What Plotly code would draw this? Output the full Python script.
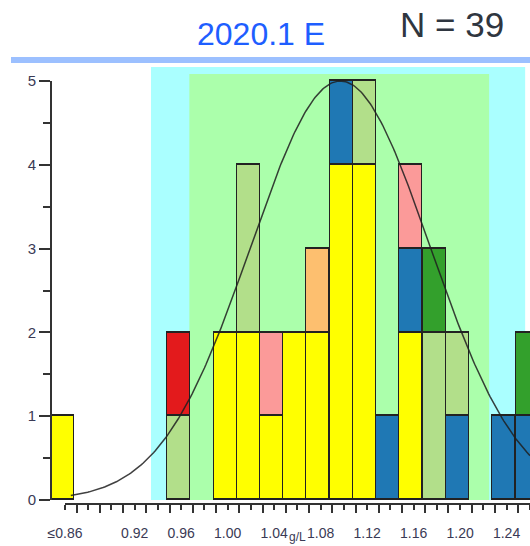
import numpy as np
import plotly.graph_objects as go

# ---------------- data ----------------
bin_centers = [0.86, 0.96, 1.00, 1.02, 1.04, 1.06, 1.08, 1.10, 1.12, 1.14, 1.16, 1.18, 1.20, 1.22, 1.24, 1.26]
yellow     = [1, 0, 2, 2, 1, 2, 2, 4, 4, 0, 2, 0, 0, 0, 0, 0]
blue       = [0, 0, 0, 0, 0, 0, 0, 1, 0, 1, 1, 0, 1, 0, 1, 1]
lightgreen = [0, 1, 0, 2, 0, 0, 0, 0, 1, 0, 0, 2, 1, 0, 0, 0]
pink       = [0, 0, 0, 0, 1, 0, 0, 0, 0, 0, 1, 0, 0, 0, 0, 0]
red        = [0, 1, 0, 0, 0, 0, 0, 0, 0, 0, 0, 0, 0, 0, 0, 0]
orange     = [0, 0, 0, 0, 0, 0, 1, 0, 0, 0, 0, 0, 0, 0, 0, 0]
green      = [0, 0, 0, 0, 0, 0, 0, 0, 0, 0, 0, 1, 0, 0, 0, 1]

x_tick_vals = [0.86, 0.92, 0.96, 1.00, 1.04, 1.08, 1.12, 1.16, 1.20, 1.24]
x_tick_text = ["≤0.86", "0.92", "0.96", "1.00", "1.04", "1.08", "1.12", "1.16", "1.20", "1.24"]
y_tick_vals = [0, 1, 2, 3, 4, 5]

curve_mean = 1.097
curve_sd = 0.077
curve_peak = 5.0
mean_marker = 1.099

outer_limits = [0.934, 1.256]   # cyan band
inner_limits = [0.967, 1.225]   # green band

title_text = "2020.1 E"
n_text = "N = 39"
x_title = "g/L"

# ---------------- layout geometry ----------------
W, H = 530, 546
def py(px):  # pixel y -> paper
    return (H - px) / H

x_range = [0.84795, 1.26017]
y_range = [0, 5.17]

fig = go.Figure()

series = [
    (yellow, "#FFFF00"),
    (blue, "#1F78B4"),
    (lightgreen, "#B2DF8A"),
    (pink, "#FB9A99"),
    (red, "#E31A1C"),
    (orange, "#FDBF6F"),
    (green, "#33A02C"),
]
for vals, col in series:
    fig.add_trace(go.Bar(
        x=bin_centers, y=[v if v else None for v in vals],
        width=0.0198, offset=-0.0122,
        marker=dict(color=col, line=dict(color="#222222", width=1.5)),
        showlegend=False, hoverinfo="skip",
    ))

cx = np.linspace(0.865, x_range[1], 300)
cy = curve_peak * np.exp(-0.5 * ((cx - curve_mean) / curve_sd) ** 2)
fig.add_trace(go.Scatter(x=cx, y=cy, mode="lines",
                         line=dict(color="rgba(30,30,30,0.85)", width=1.5),
                         showlegend=False, hoverinfo="skip"))

fig.add_trace(go.Scatter(x=[mean_marker], y=[-0.13], mode="markers",
                         marker=dict(symbol="triangle-up", size=12, color="#FFFF00",
                                     line=dict(color="#707000", width=1)),
                         cliponaxis=False, showlegend=False, hoverinfo="skip"))

shapes = [
    dict(type="rect", xref="x", yref="y", x0=outer_limits[0], x1=outer_limits[1],
         y0=0, y1=5.167, fillcolor="#AAFFFF", line=dict(width=0), layer="below"),
    dict(type="rect", xref="x", yref="y", x0=inner_limits[0], x1=inner_limits[1],
         y0=0, y1=5.083, fillcolor="#ABFFAB", line=dict(width=0), layer="below"),
    # y axis line
    dict(type="line", xref="paper", yref="y", x0=51 / W, x1=51 / W, y0=0, y1=5,
         line=dict(color="#333333", width=2)),
    # x axis line
    dict(type="line", xref="x", yref="paper", x0=0.86, x1=x_range[1], y0=py(504), y1=py(504),
         line=dict(color="#333333", width=2)),
    # top blue rule
    dict(type="rect", xref="paper", yref="paper", x0=11 / W, x1=1, y0=py(63), y1=py(57),
         fillcolor="#9CC0FF", line=dict(width=0)),
]

even_ticks = [round(v, 2) for v in np.arange(0.86, 1.2601, 0.02)]
odd_ticks = [round(v, 2) for v in np.arange(0.87, 1.2601, 0.02)]
label_map = dict(zip(x_tick_vals, x_tick_text))
ticktext = [label_map.get(v, "") for v in even_ticks]

fig.update_layout(
    width=W, height=H, autosize=False,
    margin=dict(l=0, r=0, t=0, b=0, autoexpand=False),
    paper_bgcolor="white", plot_bgcolor="white",
    barmode="stack", bargap=0,
    shapes=shapes,
    xaxis=dict(domain=[51 / W, 1], range=x_range, anchor="free", position=py(504),
               automargin=False,
               showgrid=False, zeroline=False, showline=False,
               tickmode="array", tickvals=even_ticks, ticktext=ticktext,
               ticks="outside", ticklen=5, tickwidth=1.5, tickcolor="#333333",
               minor=dict(tickmode="array", tickvals=odd_ticks, ticks="outside",
                          ticklen=8, tickwidth=1.5, tickcolor="#333333"),
               tickfont=dict(family="Liberation Sans, Arial", size=14, color="#3A3A55"),
               ticklabelstandoff=11),
    yaxis=dict(domain=[py(500), py(500 - 5.17 * 83.8)], range=y_range,
               automargin=False,
               showgrid=False, zeroline=False, showline=False,
               tickmode="array", tickvals=y_tick_vals,
               ticks="outside", ticklen=11, tickwidth=1.5, tickcolor="#333333",
               minor=dict(tickmode="array", tickvals=[0.5, 1.5, 2.5, 3.5, 4.5],
                          ticks="outside", ticklen=7, tickwidth=1.5, tickcolor="#333333"),
               tickfont=dict(family="Liberation Sans, Arial", size=15, color="#3A3A55")),
    annotations=[
        dict(text=title_text, xref="paper", yref="paper", x=261 / W, y=py(34),
             xanchor="center", yanchor="middle", showarrow=False,
             font=dict(family="Liberation Sans, Arial", size=32, color="#1E5EFF")),
        dict(text=n_text, xref="paper", yref="paper", x=452 / W, y=py(25),
             xanchor="center", yanchor="middle", showarrow=False,
             font=dict(family="Liberation Sans, Arial", size=35, color="#2F3640")),
        dict(text=x_title, xref="paper", yref="paper", x=297 / W, y=0,
             xanchor="center", yanchor="bottom", showarrow=False,
             font=dict(family="Liberation Sans, Arial", size=12, color="#3A3A55")),
    ],
)

fig.write_html("out.html", config={"displayModeBar": False},
               post_script="document.body.style.margin='0';document.body.style.overflow='hidden';")
